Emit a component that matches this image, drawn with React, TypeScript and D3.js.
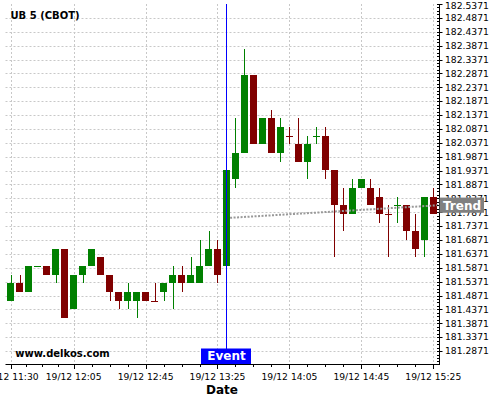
import React from "react";
import * as d3 from "d3";

const title = "UB 5 (CBOT)";
const watermark = "www.delkos.com";
const axisTitle = "Date";
const eventLabel = "Event";
const trendLabel = "Trend";
const dayLabel = "2019-12-19";

const candleTimes = [
  "11:30", "11:35", "11:40", "11:45", "11:50", "11:55", "12:00", "12:05",
  "12:10", "12:15", "12:20", "12:25", "12:30", "12:35", "12:40", "12:45",
  "12:50", "12:55", "13:00", "13:05", "13:10", "13:15", "13:20", "13:25",
  "13:30", "13:35", "13:40", "13:45", "13:50", "13:55", "14:00", "14:05",
  "14:10", "14:15", "14:20", "14:25", "14:30", "14:35", "14:40", "14:45",
  "14:50", "14:55", "15:00", "15:05", "15:10", "15:15", "15:20", "15:25",
];
const openValues = [
  181.46875, 181.53125, 181.5, 181.59375, 181.59375, 181.5625, 181.65625, 181.4375,
  181.5625, 181.59375, 181.625, 181.5625, 181.5, 181.46875, 181.46875, 181.5,
  181.46875, 181.5, 181.53125, 181.5625, 181.53125, 181.53125, 181.59375, 181.65625,
  181.59375, 181.90625, 182.0, 182.28125, 182.03125, 182.125, 182.0, 182.0625,
  182.03125, 181.96875, 182.0625, 182.0625, 181.9375, 181.8125, 181.78125, 181.875,
  181.875, 181.84375, 181.78125, 181.8125, 181.8125, 181.71875, 181.6875, 181.84375,
];
const highValues = [
  181.5625, 181.5625, 181.59375, 181.59375, 181.59375, 181.65625, 181.65625, 181.5625,
  181.59375, 181.65625, 181.625, 181.5625, 181.5, 181.53125, 181.5, 181.5,
  181.53125, 181.53125, 181.59375, 181.59375, 181.625, 181.6875, 181.71875, 181.6875,
  181.9375, 182.125, 182.375, 182.28125, 182.125, 182.15625, 182.125, 182.09375,
  182.125, 182.0625, 182.09375, 182.09375, 181.9375, 181.875, 181.90625, 181.90625,
  181.90625, 181.875, 181.8125, 181.84375, 181.8125, 181.78125, 181.84375, 181.875,
];
const lowValues = [
  181.46875, 181.5, 181.5, 181.59375, 181.5625, 181.53125, 181.40625, 181.4375,
  181.53125, 181.59375, 181.5625, 181.46875, 181.4375, 181.4375, 181.40625, 181.46875,
  181.46875, 181.46875, 181.4375, 181.5, 181.53125, 181.53125, 181.59375, 181.53125,
  181.59375, 181.875, 182.0, 182.03125, 182.03125, 182.0, 181.96875, 182.03125,
  181.96875, 181.90625, 182.03125, 181.90625, 181.625, 181.71875, 181.78125, 181.875,
  181.8125, 181.75, 181.625, 181.75, 181.6875, 181.625, 181.625, 181.78125,
];
const closeValues = [
  181.53125, 181.5, 181.59375, 181.59375, 181.5625, 181.65625, 181.40625, 181.5625,
  181.59375, 181.65625, 181.5625, 181.5, 181.46875, 181.5, 181.5, 181.46875,
  181.46875, 181.53125, 181.5625, 181.53125, 181.5625, 181.59375, 181.65625, 181.5625,
  181.9375, 182.0, 182.28125, 182.03125, 182.125, 182.0, 182.09375, 182.0625,
  181.96875, 182.03125, 182.0625, 181.9375, 181.8125, 181.78125, 181.875, 181.90625,
  181.8125, 181.78125, 181.78125, 181.8125, 181.71875, 181.65625, 181.84375, 181.78125,
];
// doji candles (open == close) drawn in the rising colour
const risingDojiTimes = ["11:45", "14:20", "15:05"];

const xTickTimes = ["11:30", "12:05", "12:45", "13:25", "14:05", "14:45", "15:25"];
const yTickValues = [
  181.2871, 181.3371, 181.3871, 181.4371, 181.4871, 181.5371, 181.5871, 181.6371,
  181.6871, 181.7371, 181.7871, 181.8371, 181.8871, 181.9371, 181.9871, 182.0371,
  182.0871, 182.1371, 182.1871, 182.2371, 182.2871, 182.3371, 182.3871, 182.4371,
  182.4871, 182.5371,
];
const xDomainTimes = ["11:27:07", "15:28:20"];
const yDomain = [181.2405, 182.5371];

const eventTime = "13:30";
const trendTimes = ["13:32", "15:28:20"];
const trendValues = [181.767, 181.8125];

const W = 500;
const H = 400;
const plot = { left: 5.5, right: 439.3, top: 4, bottom: 364 };

const UP = "#008000";
const DOWN = "#800000";
const FONT = "'DejaVu Sans', sans-serif";

function toDate(t: string): Date {
  const [y, mo, d] = dayLabel.split("-").map(Number);
  const parts = t.split(":").map(Number);
  return new Date(y, mo - 1, d, parts[0], parts[1], parts[2] || 0);
}

export default function App() {
  const x = d3
    .scaleTime()
    .domain(xDomainTimes.map(toDate))
    .range([plot.left, plot.right]);
  const y = d3.scaleLinear().domain(yDomain).range([plot.bottom, plot.top]);
  const fmtX = d3.timeFormat("%d/%m %H:%M");
  const fmtY = d3.format(".4f");
  const crisp = (v: number) => Math.round(v) + 0.5;

  const candles = candleTimes.map((t, i) => ({
    t: toDate(t),
    key: t,
    o: openValues[i],
    h: highValues[i],
    l: lowValues[i],
    c: closeValues[i],
  }));

  const xTicks = xTickTimes.map(toDate);
  const minorX: number[] = [];
  for (let i = 0; i < xTicks.length - 1; i++) {
    const a = x(xTicks[i]);
    const b = x(xTicks[i + 1]);
    for (let j = 1; j < 4; j++) minorX.push(a + ((b - a) * j) / 4);
  }
  const step = yTickValues[1] - yTickValues[0];
  const minorY: number[] = [];
  for (let v = yTickValues[0] - 3 * (step / 4); v <= yTickValues[yTickValues.length - 1] + 1e-9; v += step / 4) {
    if (v >= yDomain[0]) minorY.push(v);
  }

  const trendLine = d3
    .line<number>()
    .x((_, i) => x(toDate(trendTimes[i])))
    .y((v) => y(v));

  const ex = crisp(x(toDate(eventTime)));
  const trendEndY = y(trendValues[trendValues.length - 1]);
  const bodyW = 7;

  return (
    <div style={{ position: "fixed", left: 0, top: 0, width: W, height: H, background: "#fff" }}>
      <svg width={W} height={H} style={{ display: "block" }}>
        <rect x={0} y={0} width={W} height={H} fill="#fff" />
        {/* horizontal grid */}
        {yTickValues
          .filter((v) => y(v) > plot.top + 2)
          .map((v) => (
            <line
              key={"hg" + v}
              x1={plot.left}
              x2={plot.right}
              y1={crisp(y(v))}
              y2={crisp(y(v))}
              stroke="#c8c8c8"
              strokeDasharray="2,2"
            />
          ))}
        {/* vertical grid */}
        {xTicks.map((d) => (
          <line
            key={"vg" + d.getTime()}
            x1={crisp(x(d))}
            x2={crisp(x(d))}
            y1={plot.top}
            y2={plot.bottom}
            stroke="#c8c8c8"
            strokeDasharray="2,2"
          />
        ))}
        <text x={10.5} y={18.7} fontFamily={FONT} fontWeight="bold" fontSize={10} fill="#000">
          {title}
        </text>
        {/* candles */}
        {candles.map((d) => {
          const up = d.c > d.o || (d.c === d.o && risingDojiTimes.includes(d.key));
          const col = up ? UP : DOWN;
          const cx = x(d.t);
          const yTop = Math.round(y(Math.max(d.o, d.c)));
          const yBot = Math.round(y(Math.min(d.o, d.c)));
          const hgt = Math.max(1, yBot - yTop);
          return (
            <g key={d.key}>
              <line
                x1={crisp(cx)}
                x2={crisp(cx)}
                y1={Math.round(y(d.h))}
                y2={Math.round(y(d.l))}
                stroke={col}
                strokeWidth={1}
              />
              <rect x={Math.round(cx - bodyW / 2)} y={yTop} width={bodyW} height={hgt} fill={col} />
            </g>
          );
        })}
        {/* trend */}
        <path
          d={trendLine(trendValues) || ""}
          fill="none"
          stroke="#999"
          strokeWidth={2}
          strokeDasharray="2,1.5"
        />
        {/* event line */}
        <line x1={ex} x2={ex} y1={plot.top} y2={plot.bottom} stroke="#0000ff" strokeWidth={1} />
        <rect x={ex - 25.5} y={plot.bottom - 15.5} width={50} height={15.5} fill="#0000ff" />
        <text
          x={ex}
          y={plot.bottom - 3.6}
          textAnchor="middle"
          fontFamily={FONT}
          fontWeight="bold"
          fontSize={12}
          fill="#fff"
        >
          {eventLabel}
        </text>
        <text x={15.3} y={356.7} fontFamily={FONT} fontWeight="bold" fontSize={10} fill="#000">
          {watermark}
        </text>
        {/* x axis */}
        <line x1={plot.left} x2={plot.right} y1={plot.bottom + 0.5} y2={plot.bottom + 0.5} stroke="#000" />
        {xTicks.map((d) => (
          <g key={"xt" + d.getTime()}>
            <line
              x1={crisp(x(d))}
              x2={crisp(x(d))}
              y1={plot.bottom}
              y2={plot.bottom + 5}
              stroke="#000"
            />
            <text
              x={x(d)}
              y={379.5}
              textAnchor="middle"
              fontFamily={FONT}
              fontSize={9.2}
              fill="#000"
            >
              {fmtX(d)}
            </text>
          </g>
        ))}
        {minorX.map((v) => (
          <line key={"mx" + v} x1={crisp(v)} x2={crisp(v)} y1={plot.bottom} y2={plot.bottom + 3} stroke="#000" />
        ))}
        <text x={222} y={393.5} textAnchor="middle" fontFamily={FONT} fontWeight="bold" fontSize={12} fill="#000">
          {axisTitle}
        </text>
        {/* y axis */}
        <line x1={crisp(plot.right)} x2={crisp(plot.right)} y1={plot.top} y2={plot.bottom + 1} stroke="#000" />
        {minorY.map((v) => (
          <line
            key={"my" + v}
            x1={crisp(plot.right) - 2.5}
            x2={crisp(plot.right)}
            y1={crisp(y(v))}
            y2={crisp(y(v))}
            stroke="#000"
          />
        ))}
        {yTickValues.map((v) => (
          <g key={"yt" + v}>
            <line
              x1={crisp(plot.right)}
              x2={crisp(plot.right) + 3}
              y1={crisp(y(v))}
              y2={crisp(y(v))}
              stroke="#000"
            />
            <text
              x={445}
              y={Math.max(y(v), 5.2)}
              dy="0.36em"
              fontFamily={FONT}
              fontSize={9.2}
              fill="#000"
            >
              {fmtY(v)}
            </text>
          </g>
        ))}
        {/* trend label */}
        <rect x={crisp(plot.right)} y={trendEndY - 7.6} width={44.5} height={15.2} fill="#808080" />
        <text
          x={443}
          y={trendEndY + 4.6}
          fontFamily={FONT}
          fontWeight="bold"
          fontSize={12}
          fill="#fff"
        >
          {trendLabel}
        </text>
      </svg>
    </div>
  );
}
